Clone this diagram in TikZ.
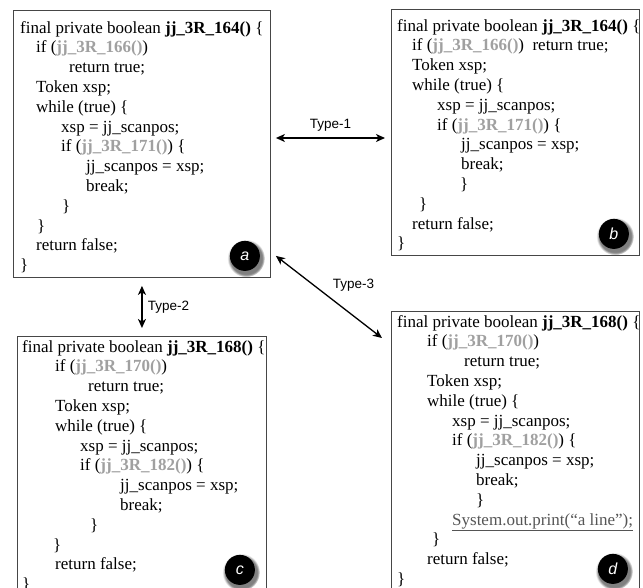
\documentclass[tikz,border=0pt]{standalone}
\usepackage{fontspec}
\setmainfont{Liberation Serif}
\setsansfont{Liberation Sans}
\usetikzlibrary{arrows.meta,shadows,positioning}

\definecolor{callgray}{RGB}{160,160,160}
\definecolor{printgray}{RGB}{85,85,85}
\definecolor{framegray}{RGB}{70,70,70}
\newcommand{\callname}[1]{\textcolor{callgray}{\textbf{#1}}}
\newcommand{\ind}[1]{\hspace*{#1pt}}

\tikzset{
  codebox/.style={draw=framegray, line width=0.9pt, rectangle, inner sep=0pt, anchor=north west},
  codetext/.style={anchor=north west, inner sep=0pt, align=left, font=\fontsize{17}{19.8}\selectfont},
  tag/.style={circle, fill=black, minimum size=30pt, inner sep=0pt, text=white,
    font=\sffamily\itshape\fontsize{16}{16}\selectfont,
    circular drop shadow={shadow xshift=1pt, shadow yshift=-2pt, shadow scale=1.25}},
  pair/.style={{Stealth[length=9pt,width=8pt,inset=2.5pt]}-{Stealth[length=9pt,width=8pt,inset=2.5pt]}, line width=1.3pt},
  kind/.style={font=\sffamily\fontsize{13.5}{14}\selectfont}
}

\begin{document}
\begin{tikzpicture}[x=1pt, y=-1pt]
  \useasboundingbox (0,0) rectangle (643,588);

  % Frames
  \node[codebox, minimum width=257pt, minimum height=267pt] (a) at (13,10) {};
  \node[codebox, minimum width=248pt, minimum height=246pt] (b) at (391,9) {};
  \node[codebox, minimum width=249pt, minimum height=262pt] (c) at (17,336) {};
  \node[codebox, minimum width=248pt, minimum height=287pt] (d) at (391,311) {};

  % Code fragments
  \node[codetext] (a-code) at ([shift={(7,11)}]a.north west) {%
    final private boolean \textbf{jj\_3R\_164()} \{\\
    \ind{16}if (\callname{jj\_3R\_166()})\\
    \ind{49}return true;\\
    \ind{16}Token xsp;\\
    \ind{16}while (true) \{\\
    \ind{41}xsp = jj\_scanpos;\\
    \ind{41}if (\callname{jj\_3R\_171()}) \{\\
    \ind{66}jj\_scanpos = xsp;\\
    \ind{66}break;\\
    \ind{42}\}\\
    \ind{17}\}\\
    \ind{16}return false;\\
    \}};
  \node[codetext] (b-code) at ([shift={(6,10)}]b.north west) {%
    final private boolean \textbf{jj\_3R\_164()} \{\\
    \ind{15}if (\callname{jj\_3R\_166()})\ \ return true;\\
    \ind{15}Token xsp;\\
    \ind{15}while (true) \{\\
    \ind{40}xsp = jj\_scanpos;\\
    \ind{40}if (\callname{jj\_3R\_171()}) \{\\
    \ind{64}jj\_scanpos = xsp;\\
    \ind{64}break;\\
    \ind{63}\}\\
    \ind{22}\}\\
    \ind{15}return false;\\
    \}};
  \node[codetext] (c-code) at ([shift={(5,4)}]c.north west) {%
    final private boolean \textbf{jj\_3R\_168()} \{\\
    \ind{33}if (\callname{jj\_3R\_170()})\\
    \ind{66}return true;\\
    \ind{33}Token xsp;\\
    \ind{33}while (true) \{\\
    \ind{58}xsp = jj\_scanpos;\\
    \ind{58}if (\callname{jj\_3R\_182()}) \{\\
    \ind{98}jj\_scanpos = xsp;\\
    \ind{98}break;\\
    \ind{68}\}\\
    \ind{31}\}\\
    \ind{33}return false;\\
    \}};
  \node[codetext] (d-code) at ([shift={(6,4)}]d.north west) {%
    final private boolean \textbf{jj\_3R\_168()} \{\\
    \ind{30}if (\callname{jj\_3R\_170()})\\
    \ind{67}return true;\\
    \ind{30}Token xsp;\\
    \ind{30}while (true) \{\\
    \ind{55}xsp = jj\_scanpos;\\
    \ind{55}if (\callname{jj\_3R\_182()}) \{\\
    \ind{79}jj\_scanpos = xsp;\\
    \ind{79}break;\\
    \ind{79}\}\\
    \ind{55}\textcolor{printgray}{\underline{System.out.print(“a line”);}}\\
    \ind{35}\}\\
    \ind{30}return false;\\
    \}};

  % Tags
  \node[tag] (a-tag) at ([shift={(-26,-22)}]a.south east) {a};
  \node[tag] (b-tag) at ([shift={(-26,-22)}]b.south east) {b};
  \node[tag] (c-tag) at ([shift={(-27,-29)}]c.south east) {c};
  \node[tag] (d-tag) at ([shift={(-27,-30)}]d.south east) {d};

  % Clone relations
  \draw[pair] ([xshift=5pt]a.east |- 0,138) -- node[kind, above=3pt] {Type-1} ([xshift=-6pt]b.west |- 0,138);
  \draw[pair, shorten <=8pt, shorten >=8pt] (a.south) -- node[kind, right=2pt] {Type-2} (c.north);
  \draw[pair] ([shift={(5,-22)}]a.south east) -- node[kind, above right=2pt and 0pt] {Type-3} ([shift={(-9,27)}]d.north west);
\end{tikzpicture}
\end{document}
